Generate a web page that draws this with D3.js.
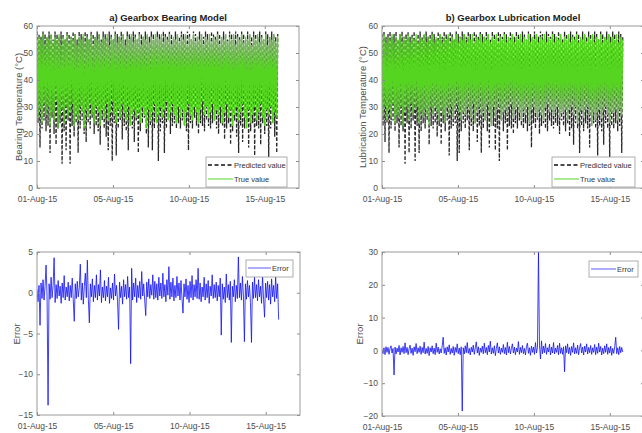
<!DOCTYPE html>
<html>
<head>
<meta charset="utf-8">
<script src="https://cdn.jsdelivr.net/npm/d3@7"></script>
<style>
  body { margin: 0; background: #fff; }
  svg { display: block; font-family: "Liberation Sans", Arial, sans-serif; }
  .tick text { fill: #4d4d4d; font-size: 8.5px; }
  .tick line { stroke: #8c8c8c; }
</style>
</head>
<body>
<svg width="642" height="433"></svg>
<script>
// tick labels
var dateLabels = ["01-Aug-15", "05-Aug-15", "10-Aug-15", "15-Aug-15"];
var dateTicks = [0, 1, 2, 3];
var tempTicks = [0, 10, 20, 30, 40, 50, 60];
var errTicksA = [-15, -10, -5, 0, 5];
var errTicksB = [-20, -10, 0, 10, 20, 30];

// samples run from 01-Aug to ~15.7-Aug (in tick units)
var tStart = 0, tEnd = 3.17;

// a) bearing temperature, true / predicted
var bearingTrue = [
  54,26,56,29,55,24,57,31,53,27, 56,30,55,23,57,28,54,25,56,32,
  55,22,57,27,53,29,56,24,55,30, 57,26,54,28,56,31,55,23,57,27,
  53,25,56,30,55,28,57,22,54,29, 56,26,55,31,57,27,53,24,56,30,
  55,28,57,23,54,29,56,26,55,31, 57,25,53,28,56,32,55,27,57,24,
  54,29,56,26,55,31,57,28,53,25, 56,30,55,23,57,27,54,29,56,26,
  55,28,57,24,53,30,56,27,55,22, 57,29,54,25,56,28,55,31,57,24,
  56,27,55,30,57,26,54,29,56,32, 55,25,57,28,53,31,56,27,55,24,
  57,30,54,26,56,29,55,23,57,28, 53,31,56,27,55,25,57,30,54,28,
  56,24,55,29,57,32,53,27,56,30, 55,26,57,28,54,31,56,25,55,29,
  57,27,53,30,56,24,55,28,57,31, 54,26,56,29,55,23,57,27,53,30,
  56,25,55,28,57,31,54,26,56,22, 55,29,57,24,53,27,56,30,55,25,
  57,28,54,31,56,26,55,23,57,29, 53,27,56,30,55,24,57,28,54,26,
  56];
var bearingPred = [
  58,24,57,15,56,22,58,25,57,21, 56,23,58,13,57,26,55,20,58,16,
  57,22,56,24,58,9,57,21,55,14,  58,25,57,9,56,23,58,19,57,24,
  55,13,58,22,57,25,56,20,58,17, 57,24,55,22,58,26,57,20,56,23,
  58,21,57,16,55,25,58,22,57,19, 56,14,58,23,57,10,55,24,58,12,
  57,22,56,25,58,18,57,23,55,21, 58,14,57,24,56,22,58,17,57,25,
  55,13,58,21,57,24,56,26,58,20, 57,15,56,23,58,14,57,22,55,25,
  58,10,57,21,56,24,58,13,57,22, 56,25,58,20,57,23,55,24,58,22,
  57,24,56,22,58,25,57,23,56,21, 58,14,57,24,55,22,58,26,57,23,
  56,20,58,24,57,23,56,21,58,25, 57,23,55,22,58,24,57,25,56,22,
  58,20,57,24,56,23,58,18,57,22, 55,24,58,16,57,21,56,25,58,19,
  57,13,56,23,58,17,57,22,55,24, 58,15,57,21,56,24,58,12,57,23,
  56,22,58,16,57,24,55,20,58,23, 57,11,56,22,58,24,57,19,56,13,
  57];

// b) lubrication temperature, true / predicted
var lubeTrue = [
  55,27,57,30,54,25,56,29,55,26, 57,31,54,24,56,27,55,26,57,30,
  54,23,56,28,55,30,57,25,54,31, 56,27,55,29,57,30,54,24,56,28,
  55,26,57,29,54,27,56,23,55,30, 57,27,54,30,56,28,55,25,57,29,
  54,27,56,24,55,30,57,27,54,30, 56,26,55,29,57,31,54,28,56,25,
  55,28,57,27,54,30,56,29,55,26, 57,31,54,24,56,28,55,30,57,27,
  54,29,56,25,55,31,57,28,54,23, 56,30,55,26,57,29,54,30,56,25,
  55,28,57,29,54,27,56,30,55,31, 57,26,54,29,56,30,55,28,57,25,
  54,29,56,27,55,30,57,24,54,29, 56,30,55,28,57,26,54,29,56,27,
  55,25,57,30,54,31,56,28,55,29, 57,27,54,29,56,30,55,26,57,28,
  54,28,56,29,55,25,57,29,54,30, 56,27,55,30,57,24,54,28,56,29,
  55,26,57,29,54,30,56,27,55,23, 57,28,54,25,56,28,55,29,57,26,
  54,29,56,30,55,27,57,24,54,28, 56,28,55,29,57,25,54,29,56,27,
  55];
var lubePred = [
  57,23,58,17,56,24,57,13,58,22, 56,25,57,21,58,24,55,15,57,23,
  58,21,56,9,57,24,58,13,56,22,  57,25,58,10,55,23,57,13,58,21,
  56,24,57,22,58,25,56,16,57,23, 58,22,57,24,55,19,58,23,57,16,
  56,24,58,21,57,25,56,12,58,22, 57,23,55,24,58,10,57,13,56,21,
  58,24,57,22,56,25,58,14,57,23, 55,21,58,24,57,17,56,23,58,13,
  57,22,56,25,58,21,57,15,55,24, 58,23,57,14,56,22,58,10,57,25,
  56,21,58,24,57,14,55,23,58,22, 57,20,56,24,58,22,57,25,56,23,
  58,22,57,24,55,21,58,23,57,15, 56,24,58,22,57,25,56,20,58,23,
  57,24,55,22,58,21,57,25,56,23, 58,22,57,24,56,23,58,20,57,25,
  55,23,58,21,57,24,56,19,58,22, 57,16,56,24,58,22,57,13,55,23,
  58,21,57,24,56,22,58,15,57,23, 56,24,58,22,57,12,55,23,58,21,
  57,16,56,24,58,22,57,11,56,23, 58,22,57,24,55,21,58,23,57,13,
  56];

// errors (true - predicted)
var bearingError = [
  0.4,-1.1,0.9,-4.0,1.2,-0.7,1.6,-0.9,0.8,3.4,   -0.5,-13.8,1.1,-0.8,1.9,-0.6,0.9,4.3,-1.2,1.0,
  -0.7,1.5,-0.4,0.8,-1.3,1.2,-0.6,2.1,-0.9,0.7,  -0.5,1.3,-1.0,0.9,-0.6,1.8,-0.8,-3.5,1.1,-0.7,
  1.4,-0.5,0.6,3.5,-0.9,1.2,-1.4,0.8,2.4,-0.6,   4.0,-0.8,-3.7,1.1,-0.5,1.7,-1.1,0.9,-0.6,2.2,
  -0.9,1.0,-0.4,2.8,-1.2,0.7,-0.6,1.5,-1.0,0.8,  -0.5,1.9,-1.3,0.6,-0.7,1.2,-0.9,2.3,-0.4,0.9,
  -1.1,-4.5,1.3,-0.6,0.8,-1.4,1.6,-0.5,1.0,-0.8, 2.0,-0.6,0.7,-8.7,3.0,-0.9,1.2,-0.5,1.8,-1.2,
  0.9,-0.6,1.4,-0.8,2.6,-0.4,1.1,-1.0,-2.8,1.3,  -0.5,1.7,-0.7,1.0,-0.3,2.2,-0.8,1.4,-0.6,1.1,
  -0.9,1.9,-0.4,1.2,-0.7,2.4,-0.5,1.0,-1.1,1.6,  -0.3,3.2,-0.8,1.3,-0.5,1.8,-1.0,0.9,-0.6,2.0,
  -0.4,1.2,-0.9,1.5,-0.7,-2.5,1.1,-0.5,1.7,-0.8, 0.9,-1.2,1.4,-0.6,2.1,-0.9,1.0,-0.5,1.6,-0.7,
  3.0,-0.8,1.2,-1.1,0.7,-0.5,1.9,-0.9,1.1,-0.6,  1.5,-1.3,0.8,-0.4,2.2,-0.7,1.0,-0.6,1.3,-1.0,
  0.9,-0.5,1.8,-5.2,1.1,-0.8,0.7,-1.2,2.3,-0.6,  1.0,-0.9,1.4,-6.1,0.8,-0.5,1.6,-1.1,0.9,-0.7,
  4.4,-0.6,1.2,-0.9,2.0,-0.4,-6.0,1.1,-0.8,1.5,  -0.5,0.9,-1.2,-6.1,1.3,-0.7,1.9,-0.6,1.0,-1.0,
  1.6,-0.5,0.8,-1.3,2.1,-0.8,-3.0,1.2,-0.6,1.4,  -0.9,1.0,-1.4,1.7,-0.5,0.9,-1.1,2.0,-0.7,1.1,
  -3.3];
var lubeError = [
  0.3,-1.0,0.8,-1.3,1.1,-0.6,0.9,-1.2,0.5,1.4,   -0.8,0.6,-7.5,1.0,-1.1,0.7,-0.5,1.5,-1.4,0.8,
  -0.6,1.2,-1.0,2.3,-0.7,0.9,-1.3,0.5,1.6,-0.9,  0.7,-1.5,1.1,-0.4,2.1,-1.0,0.8,-0.6,1.3,-1.2,
  0.9,-0.7,2.5,-1.1,0.6,-0.9,1.2,-1.6,0.8,-0.5,  1.4,-1.0,0.7,-1.3,2.2,-0.6,1.0,-1.1,0.5,-0.8,
  1.3,4.0,-0.9,0.8,-1.4,1.1,-0.5,1.7,-1.2,0.6,   -0.8,1.2,-1.5,0.9,-0.6,2.0,-1.0,0.7,-1.3,1.1,
  -18.5,0.8,-1.1,1.4,-0.7,2.4,-0.9,0.6,-1.4,1.0, -0.5,1.6,-1.2,0.8,2.6,-0.8,1.1,-1.5,0.7,-0.6,
  1.3,-1.0,2.2,-0.7,0.9,-1.3,1.5,-0.5,2.8,-1.1,  0.8,-0.9,1.4,-1.6,0.6,2.3,-0.8,1.1,-1.2,0.7,
  -0.6,1.8,-1.0,0.9,-1.4,2.5,-0.7,1.2,-1.1,0.6,  2.0,-0.8,1.0,-1.3,0.7,-0.5,2.7,-1.2,0.9,-0.7,
  1.5,-1.0,0.6,-1.4,1.1,2.2,-0.9,0.8,-1.5,1.3,   -0.6,1.0,-1.2,2.4,-0.8,0.9,30.0,1.6,-2.6,2.9,
  -1.0,1.3,-0.7,2.1,-1.2,0.8,-0.5,1.9,-1.4,1.0,  -0.8,2.4,-1.1,0.7,-0.6,1.5,-1.3,2.2,-0.9,0.8,
  -1.2,1.1,-6.5,1.4,-0.7,2.0,-1.0,0.9,-1.5,1.2,  -0.6,2.3,-1.1,0.8,-0.9,1.6,-1.3,0.7,2.1,-0.8,
  1.0,-1.4,1.3,-0.5,2.0,-1.1,0.9,-0.7,1.5,-1.2,  0.8,-0.6,1.8,-1.3,1.0,-0.9,2.2,-0.5,1.2,-1.4,
  0.7,-1.0,1.4,-0.6,2.0,-1.2,0.9,-0.8,1.3,-1.5,  0.6,-0.9,1.1,4.0,-1.0,0.8,-1.3,1.2,-0.7,0.9,
  -0.5];

var svg = d3.select("svg");
var greenC = "#55d420", blueC = "#1010f5";

function timeOf(vals) {
  return vals.map(function(v, i) {
    return {t: tStart + (tEnd - tStart) * i / (vals.length - 1), v: v};
  });
}

function drawPanel(p, idx) {
  var w = p.width, h = p.height;
  var g = svg.append("g").attr("transform", "translate(" + p.left + "," + p.top + ")");

  var x = d3.scaleLinear().domain([0, 3.45]).range([0, w]);
  var y = d3.scaleLinear().domain(p.yDomain).range([h, 0]);

  g.append("clipPath").attr("id", "clip" + idx)
    .append("rect").attr("width", w).attr("height", h);

  var plot = g.append("g").attr("clip-path", "url(#clip" + idx + ")");
  var line = d3.line().x(function(d) { return x(d.t); }).y(function(d) { return y(d.v); });

  p.series.forEach(function(s) {
    plot.append("path")
      .datum(timeOf(s.values))
      .attr("fill", "none")
      .attr("stroke", s.color)
      .attr("stroke-width", s.width)
      .attr("stroke-dasharray", s.dash || null)
      .attr("stroke-opacity", s.opacity || 1)
      .attr("d", line);
  });

  // axes, ticks inside like matlab
  g.append("g")
    .call(d3.axisLeft(y).tickValues(p.yTicks).tickSize(-3).tickPadding(4))
    .call(function(a) { a.select(".domain").remove(); });
  g.append("g").attr("transform", "translate(" + w + ",0)")
    .call(d3.axisRight(y).tickValues(p.yTicks).tickSize(-3).tickFormat(""))
    .call(function(a) { a.select(".domain").remove(); });
  g.append("g").attr("transform", "translate(0," + h + ")")
    .call(d3.axisBottom(x).tickValues(dateTicks).tickSize(-3).tickPadding(8)
      .tickFormat(function(d, i) { return dateLabels[i]; }))
    .call(function(a) { a.select(".domain").remove(); });
  g.append("g")
    .call(d3.axisTop(x).tickValues(dateTicks).tickSize(-3).tickFormat(""))
    .call(function(a) { a.select(".domain").remove(); });

  g.append("rect")
    .attr("width", w).attr("height", h)
    .attr("fill", "none").attr("stroke", "#9a9a9a").attr("stroke-width", 1);

  if (p.title) {
    g.append("text")
      .attr("x", p.titleX).attr("y", -5)
      .attr("text-anchor", "middle")
      .attr("font-size", 9.5).attr("font-weight", "bold")
      .attr("fill", "#222")
      .text(p.title);
  }

  g.append("text")
    .attr("transform", "rotate(-90)")
    .attr("x", -p.ylabelY).attr("y", p.ylabelX)
    .attr("text-anchor", "middle")
    .attr("font-size", 9.5)
    .attr("fill", "#4d4d4d")
    .text(p.ylabel);

  // legend
  var L = p.legend;
  var lg = g.append("g").attr("transform", "translate(" + L.x + "," + L.y + ")");
  lg.append("rect").attr("width", L.w).attr("height", L.h)
    .attr("fill", "#fff").attr("stroke", "#9a9a9a").attr("stroke-width", 0.8);
  L.items.forEach(function(it, i) {
    var yy = 8 + i * 14;
    lg.append("line")
      .attr("x1", 2).attr("x2", L.lineEnd).attr("y1", yy).attr("y2", yy)
      .attr("stroke", it.color).attr("stroke-width", it.width)
      .attr("stroke-dasharray", it.dash || null);
    lg.append("text")
      .attr("x", L.lineEnd + 1).attr("y", yy + 2.8)
      .attr("font-size", 7.5).attr("fill", "#333")
      .text(it.label);
  });
}

var predStyle = {color: "#111", width: 1.3, dash: "3.5,2", opacity: 0.9};
var trueStyle = {color: greenC, width: 1.2};

var panels = [
  {
    left: 37, top: 26, width: 262, height: 162,
    yDomain: [0, 60], yTicks: tempTicks,
    title: "a) Gearbox Bearing Model", titleX: 131,
    ylabel: "Bearing Temperature (°C)", ylabelX: -15, ylabelY: 81,
    series: [
      Object.assign({values: bearingPred}, predStyle),
      Object.assign({values: bearingTrue}, trueStyle)
    ],
    legend: {x: 169, y: 131, w: 81, h: 30, lineEnd: 27, items: [
      {label: "Predicted value", color: "#111", width: 1.6, dash: "4,2.5"},
      {label: "True value", color: greenC, width: 1}
    ]}
  },
  {
    left: 382, top: 26, width: 262, height: 162,
    yDomain: [0, 60], yTicks: tempTicks,
    title: "b) Gearbox Lubrication Model", titleX: 131,
    ylabel: "Lubrication Temperature (°C)", ylabelX: -16, ylabelY: 81,
    series: [
      Object.assign({values: lubePred}, predStyle),
      Object.assign({values: lubeTrue}, trueStyle)
    ],
    legend: {x: 170, y: 131, w: 83, h: 30, lineEnd: 27, items: [
      {label: "Predicted value", color: "#111", width: 1.6, dash: "4,2.5"},
      {label: "True value", color: greenC, width: 1}
    ]}
  },
  {
    left: 37, top: 252, width: 263, height: 163,
    yDomain: [-15, 5], yTicks: errTicksA,
    ylabel: "Error", ylabelX: -17, ylabelY: 82,
    series: [{values: bearingError, color: blueC, width: 0.8}],
    legend: {x: 209, y: 8, w: 47, h: 17, lineEnd: 25, items: [
      {label: "Error", color: "#5a5af5", width: 1}
    ]}
  },
  {
    left: 382, top: 252, width: 262, height: 164,
    yDomain: [-20, 30], yTicks: errTicksB,
    ylabel: "Error", ylabelX: -19, ylabelY: 82,
    series: [{values: lubeError, color: blueC, width: 0.8}],
    legend: {x: 207, y: 9, w: 49, h: 16, lineEnd: 27, items: [
      {label: "Error", color: "#5a5af5", width: 1}
    ]}
  }
];

panels.forEach(drawPanel);
</script>
</body>
</html>
